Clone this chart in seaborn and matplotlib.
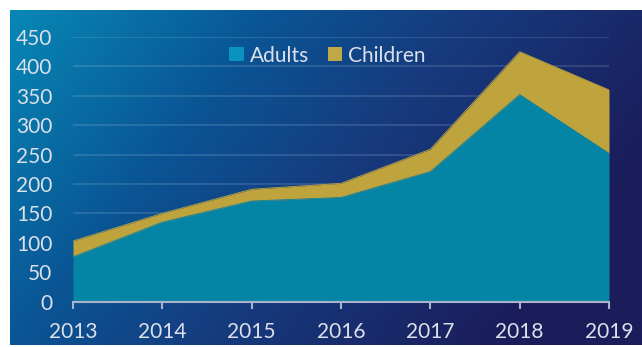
import numpy as np
import pandas as pd
import matplotlib
matplotlib.use("Agg")
import matplotlib.pyplot as plt
import seaborn as sns
from matplotlib.colors import LinearSegmentedColormap
from matplotlib.patches import Patch

years = [2013, 2014, 2015, 2016, 2017, 2018, 2019]
adults = [76, 135, 171, 177, 221, 352, 252]
children = [27, 15, 20, 24, 38, 73, 108]
y_ticks = [0, 50, 100, 150, 200, 250, 300, 350, 400, 450]
series_names = ["Adults", "Children"]

teal = "#0585A6"
gold = "#BFA33C"
text_col = "#DCE0EA"

sns.set_theme(style="white")
plt.rcParams["font.family"] = ["Lato", "DejaVu Sans"]

fig = plt.figure(figsize=(6.42, 3.47), dpi=100)
fig.patch.set_facecolor("white")

# gradient background panel
bg = fig.add_axes([10 / 642, 2 / 347, 632 / 642, 335 / 347])
bg.set_axis_off()
nx, ny = 400, 200
xx, yy = np.meshgrid(np.linspace(0, 1, nx), np.linspace(0, 1, ny))
s = np.clip(0.85 * xx + 0.35 * yy, 0, 1)
cmap = LinearSegmentedColormap.from_list(
    "bg", [(0, "#0788B5"), (0.35, "#0A5595"), (0.62, "#163B7E"), (1, "#1B1D5B")])
bg.imshow(s, cmap=cmap, aspect="auto", extent=[0, 1, 1, 0], vmin=0, vmax=1)
bg.set_xlim(0, 1)
bg.set_ylim(1, 0)

ax = fig.add_axes([73 / 642, (347 - 301.5) / 347, (609 - 73) / 642, (301.5 - 37) / 347])
ax.patch.set_alpha(0)

df = pd.DataFrame({"Year": years, "Adults": adults, "Children": children})
df["Total"] = df["Adults"] + df["Children"]

ax.fill_between(df["Year"], 0, df["Adults"], color=teal, lw=0, zorder=3)
ax.fill_between(df["Year"], df["Adults"], df["Total"], color=gold, lw=0, zorder=3)
sns.lineplot(data=df, x="Year", y="Adults", color=teal, lw=0.6, ax=ax, zorder=4)
sns.lineplot(data=df, x="Year", y="Total", color=gold, lw=0.6, ax=ax, zorder=4)

ax.set_xlim(2013, 2019)
ax.set_ylim(0, 450)
ax.set_yticks(y_ticks)
ax.set_xticks(years)
ax.set_xticklabels([str(y) for y in years])
for v in y_ticks[1:]:
    ax.axhline(v, color="white", alpha=0.15, lw=1.2, zorder=1)

for sp in ["top", "right", "left"]:
    ax.spines[sp].set_visible(False)
ax.spines["bottom"].set_color("#A9B3CC")
ax.spines["bottom"].set_linewidth(1.5)
ax.spines["bottom"].set_zorder(5)
ax.tick_params(axis="x", direction="out", length=5, width=1.5, color="#A9B3CC",
               labelcolor=text_col, labelsize=15, pad=10, bottom=True)
ax.tick_params(axis="y", length=0, labelcolor=text_col, labelsize=15, pad=15)
ax.set_xlabel("")
ax.set_ylabel("")
ax.grid(False)

handles = [Patch(facecolor="#0A93BC", edgecolor="none"), Patch(facecolor="#BFA845", edgecolor="none")]
leg = ax.legend(handles, series_names, loc="center", bbox_to_anchor=(0.475, 0.93),
                ncol=2, frameon=False, fontsize=15, handlelength=0.68, handleheight=0.68,
                handletextpad=0.3, columnspacing=0.9, labelcolor=text_col)
leg.set_zorder(6)

fig.savefig("out.png", dpi=100, facecolor=fig.get_facecolor())
